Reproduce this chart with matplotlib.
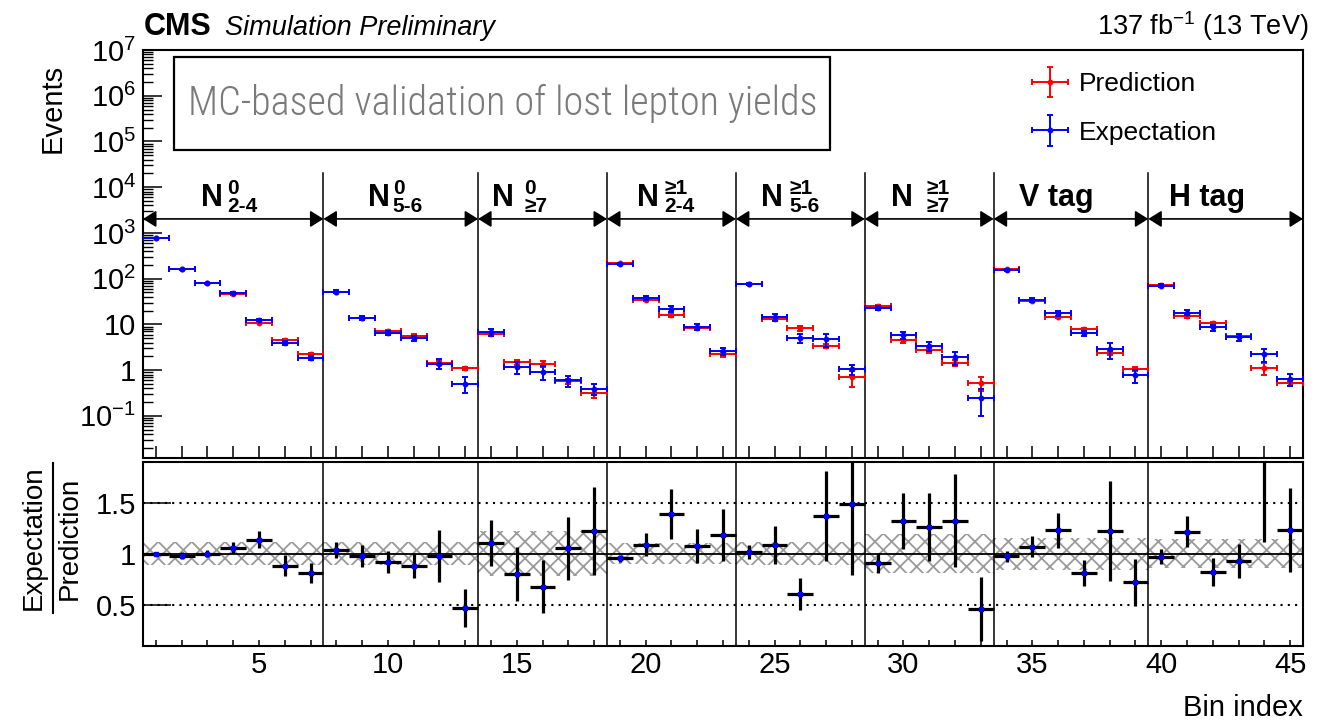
import numpy as np
import matplotlib
matplotlib.use("Agg")
import matplotlib.pyplot as plt
from matplotlib.transforms import blended_transform_factory
from matplotlib.container import ErrorbarContainer
from matplotlib.legend_handler import HandlerErrorbar
from matplotlib.patches import Rectangle
from matplotlib.lines import Line2D
from matplotlib.ticker import FixedLocator, FixedFormatter, MultipleLocator, NullFormatter, LogLocator

plt.rcParams['font.family'] = ['Liberation Sans', 'DejaVu Sans']
plt.rcParams['mathtext.fontset'] = 'custom'
plt.rcParams['mathtext.rm'] = 'Liberation Sans'
plt.rcParams['mathtext.it'] = 'Liberation Sans:italic'
plt.rcParams['mathtext.bf'] = 'Liberation Sans:bold'
plt.rcParams['hatch.linewidth'] = 1.3

# ---------------- data ----------------
bins = np.arange(1, 46)

prediction = [780, 163, 79, 45.5, 11.0, 4.45, 2.25,
              50, 14.0, 7.2, 5.7, 1.42, 1.09,
              6.1, 1.47, 1.36, 0.57, 0.32,
              220, 34.5, 15.7, 8.25, 2.22,
              75, 13.4, 8.3, 3.45, 0.70,
              25.5, 4.45, 2.7, 1.45, 0.52,
              162, 32, 14.5, 7.9, 2.35, 1.07,
              72, 15.0, 10.5, 5.6, 1.12, 0.52]

prediction_rel_err = [0.012, 0.02, 0.02, 0.03, 0.04, 0.06, 0.06,
                      0.03, 0.05, 0.06, 0.06, 0.10, 0.08,
                      0.08, 0.13, 0.15, 0.12, 0.22,
                      0.02, 0.05, 0.09, 0.06, 0.12,
                      0.03, 0.05, 0.14, 0.10, 0.40,
                      0.05, 0.10, 0.12, 0.14, 0.33,
                      0.02, 0.04, 0.06, 0.08, 0.10, 0.09,
                      0.03, 0.06, 0.07, 0.06, 0.30, 0.12]

expectation = [780, 160, 79, 48.2, 12.5, 3.93, 1.83,
               52, 13.7, 6.62, 5.02, 1.39, 0.51,
               6.75, 1.18, 0.92, 0.60, 0.39,
               210, 37.6, 21.8, 8.87, 2.63,
               76, 14.5, 5.03, 4.73, 1.04,
               23.2, 5.87, 3.4, 1.92, 0.24,
               158, 34.2, 17.8, 6.4, 2.87, 0.77,
               70, 18.2, 8.6, 5.2, 2.2, 0.64]

expectation_rel_err = [0.016, 0.024, 0.029, 0.045, 0.063, 0.10, 0.104,
                       0.068, 0.099, 0.10, 0.122, 0.242, 0.394,
                       0.187, 0.303, 0.351, 0.27, 0.277,
                       0.03, 0.095, 0.148, 0.147, 0.18,
                       0.062, 0.166, 0.216, 0.307, 0.24,
                       0.098, 0.185, 0.236, 0.314, 0.59,
                       0.049, 0.087, 0.124, 0.135, 0.385, 0.305,
                       0.068, 0.11, 0.149, 0.165, 0.314, 0.31]

section_edges = [0.5, 7.5, 13.5, 18.5, 23.5, 28.5, 33.5, 39.5, 45.5]
section_labels = [("N", "0", "2-4"), ("N", "0", "5-6"), ("N", "0", "\u22657"),
                  ("N", "\u22651", "2-4"), ("N", "\u22651", "5-6"), ("N", "\u22651", "\u22657"),
                  ("V tag", None, None), ("H tag", None, None)]
section_syst = [0.115, 0.11, 0.22, 0.10, 0.11, 0.19, 0.155, 0.14]

# ---------------- derived quantities ----------------
pred = np.array(prediction)
expc = np.array(expectation)
pred_err = pred * np.array(prediction_rel_err)
expc_err = expc * np.array(expectation_rel_err)
ratio = expc / pred
ratio_err = ratio * np.hypot(np.array(prediction_rel_err), np.array(expectation_rel_err))

# ---------------- layout ----------------
W, H = 1334, 723
fig = plt.figure(figsize=(W / 100, H / 100), dpi=100)
fig.patch.set_facecolor('white')

ax = fig.add_axes([143 / W, 1 - 458 / H, 1160 / W, 408 / H])
rax = fig.add_axes([143 / W, 1 - 645.7 / H, 1160 / W, 184 / H])

for a in (ax, rax):
    for s in a.spines.values():
        s.set_linewidth(1.5)
    a.set_xlim(0.5, 45.5)

# ---------------- upper panel ----------------
ax.set_yscale('log')
ax.set_ylim(0.012, 1e7)

pred_c = ax.errorbar(bins, pred, xerr=0.5, yerr=pred_err, fmt='o', color='#ff0000',
                     ms=3.2, lw=1.4, capsize=2.5, capthick=1.4, label='Prediction', zorder=3)
exp_c = ax.errorbar(bins, expc, xerr=0.5, yerr=expc_err, fmt='o', color='#0000ff',
                    ms=3.2, lw=1.4, capsize=2.5, capthick=1.4, label='Expectation', zorder=4)

decades = [1e-1, 1, 10, 1e2, 1e3, 1e4, 1e5, 1e6, 1e7]
dec_labels = [r'$10^{-1}$', '1', '10', r'$10^{2}$', r'$10^{3}$', r'$10^{4}$',
              r'$10^{5}$', r'$10^{6}$', r'$10^{7}$']
ax.yaxis.set_major_locator(FixedLocator(decades))
ax.yaxis.set_major_formatter(FixedFormatter(dec_labels))
ax.yaxis.set_minor_locator(LogLocator(base=10, subs=np.arange(2, 10), numticks=30))
ax.yaxis.set_minor_formatter(NullFormatter())
ax.tick_params(axis='y', which='major', direction='in', length=14, width=1.1,
               labelsize=21, pad=5, right=False)
ax.tick_params(axis='y', which='minor', direction='in', length=7, width=1.0, right=False)

ax.xaxis.set_major_locator(MultipleLocator(5))
ax.xaxis.set_minor_locator(MultipleLocator(1))
ax.tick_params(axis='x', which='both', direction='in', length=9, width=1.1,
               labelbottom=False, top=False)

trans = blended_transform_factory(ax.transData, ax.transAxes)
y_arrow = 0.586
for e in section_edges[1:-1]:
    ax.plot([e, e], [0, 0.6985], transform=trans, color='k', lw=1.1, zorder=2)

# per-section label placement (pixel offsets from the section centre)
label_offsets = [(-10, -6), (-11, -8), (-29, -18), (-13, -7), (-17, -11), (-16, -3), (-15, None), (-19, None)]
px = 0.72  # points per pixel
for i, (lab, sup, sub) in enumerate(section_labels):
    lo, hi = section_edges[i], section_edges[i + 1]
    c = 0.5 * (lo + hi)
    ax.annotate('', xy=(lo, y_arrow), xytext=(hi, y_arrow), xycoords=trans, textcoords=trans,
                arrowprops=dict(arrowstyle='<|-|>,head_length=0.4,head_width=0.25',
                                mutation_scale=20, lw=1.2, color='k', shrinkA=0, shrinkB=0))
    nx, sx = label_offsets[i]
    if sup is None:
        ax.annotate(lab, xy=(c, 0.6176), xycoords=trans, xytext=(nx * px, 0),
                    textcoords='offset points', ha='center', va='baseline',
                    fontsize=22, fontweight='bold')
    else:
        ax.annotate(lab, xy=(c, 0.6176), xycoords=trans, xytext=(nx * px, 0),
                    textcoords='offset points', ha='right', va='baseline',
                    fontsize=22, fontweight='bold')
        ax.annotate(sup, xy=(c, 0.6176), xycoords=trans, xytext=(sx * px, 12 * px),
                    textcoords='offset points', ha='left', va='baseline',
                    fontsize=15, fontweight='bold')
        ax.annotate(sub, xy=(c, 0.6176), xycoords=trans, xytext=(sx * px, -6 * px),
                    textcoords='offset points', ha='left', va='baseline',
                    fontsize=15, fontweight='bold')

# framed title box
ax.add_patch(Rectangle((0.027, 0.755), 0.565, 0.228, transform=ax.transAxes,
                       facecolor='white', edgecolor='k', lw=1.6, zorder=5))
ax.text(0.31, 0.868, 'MC-based validation of lost lepton yields', transform=ax.transAxes,
        ha='center', va='center', color='#7a7a7a', fontsize=29, fontweight='light',
        fontstretch='condensed',
        family=['Open Sans Condensed Light', 'Roboto Condensed', 'Open Sans Condensed', 'DejaVu Sans'],
        zorder=6)

leg = ax.legend(handles=[pred_c, exp_c], loc='upper left', bbox_to_anchor=(0.766, 0.945),
                frameon=False, fontsize=19, borderaxespad=0, borderpad=0,
                handlelength=1.4, handletextpad=0.4, labelspacing=0.92,
                handler_map={ErrorbarContainer: HandlerErrorbar(xerr_size=0.68, yerr_size=0.57)})

# ---------------- ratio panel ----------------
rax.set_ylim(0.1, 1.9)
for i in range(len(section_syst)):
    lo, hi = section_edges[i], section_edges[i + 1]
    h = section_syst[i]
    rax.fill_between([lo, hi], [1 - h, 1 - h], [1 + h, 1 + h], facecolor='none',
                     edgecolor='#9a9a9a', hatch='xx', linewidth=0, zorder=1)
rax.axhline(1.0, color='k', lw=1.3, zorder=2)
for yv in (0.5, 1.5):
    rax.axhline(yv, color='k', lw=1.5, ls=(0, (1, 2.5)), zorder=2)
for e in section_edges[1:-1]:
    rax.axvline(e, color='k', lw=1.1, zorder=2)

rax.errorbar(bins, ratio, xerr=0.5, yerr=ratio_err, fmt='s', color='k', ms=3,
             mfc='#0000ff', mec='#0000ff', elinewidth=2.3, capsize=0, zorder=4)

rax.yaxis.set_major_locator(FixedLocator([0.5, 1.0, 1.5]))
rax.yaxis.set_major_formatter(FixedFormatter(['0.5', '1', '1.5']))
rax.tick_params(axis='y', which='major', direction='in', length=20, width=1.1,
                labelsize=21, pad=5, right=False)
rax.xaxis.set_major_locator(MultipleLocator(5))
rax.xaxis.set_minor_locator(MultipleLocator(1))
rax.tick_params(axis='x', which='both', direction='in', length=4.5, width=1.1,
                labelsize=21, pad=4, top=False)

# ---------------- axis titles and header ----------------
fig.text(53 / W, 1 - 108 / H, 'Events', rotation=90, ha='center', va='center', fontsize=21)
fig.text(34 / W, 1 - 538 / H, 'Expectation', rotation=90, ha='center', va='center', fontsize=20)
fig.text(70 / W, 1 - 538 / H, 'Prediction', rotation=90, ha='center', va='center', fontsize=20)
fig.add_artist(Line2D([53 / W, 53 / W], [1 - 463 / H, 1 - 613 / H], transform=fig.transFigure,
                      color='k', lw=1.5))
fig.text(1303 / W, 1 - 716 / H, 'Bin index', ha='right', va='baseline', fontsize=21)

fig.text(144 / W, 1 - 35 / H, 'CMS', ha='left', va='baseline', fontsize=22, fontweight='bold')
fig.text(225 / W, 1 - 35 / H, 'Simulation Preliminary', ha='left', va='baseline',
         fontsize=19.5, style='italic')
fig.text(1308 / W, 1 - 35 / H, r'137 fb$^{-1}$ (13 TeV)', ha='right', va='baseline', fontsize=19.5)

fig.savefig('out.png', dpi=100, facecolor='white')
